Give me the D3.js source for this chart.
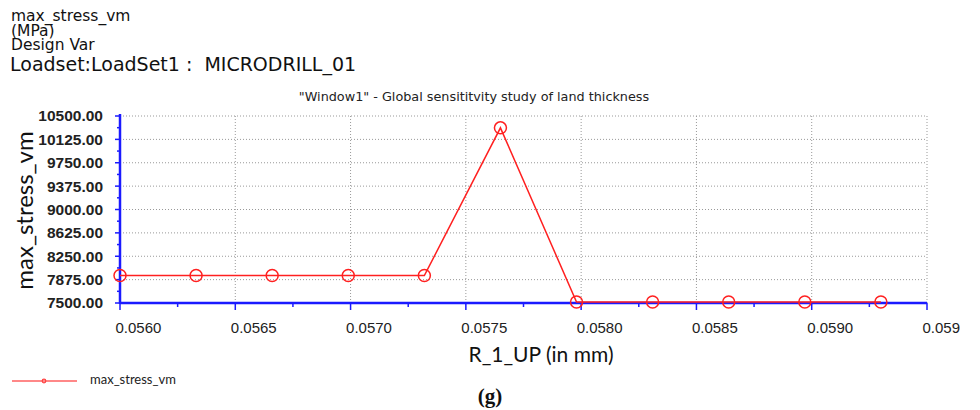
<!DOCTYPE html>
<html lang="en">
<head>
<meta charset="UTF-8">
<script src="https://d3js.org/d3.v7.min.js"></script>
<title>max_stress_vm sensitivity</title>
<style>
  body { margin: 0; background: #fff; }
  svg { display: block; font-family: Lato, 'Open Sans', sans-serif; }
  .hdr { font-family: 'DejaVu Sans', sans-serif; white-space: pre; }
</style>
</head>
<body>
<svg id="chart" width="980" height="410"></svg>
<script>
// design variable values (mm) and resulting stress (MPa)
const landThickness = [0.05600, 0.05633, 0.05666, 0.05699, 0.05732, 0.05765,
                       0.05798, 0.05831, 0.05864, 0.05897, 0.05930];
const maxStress = [7940, 7940, 7940, 7940, 7940, 10310,
                   7515, 7515, 7515, 7515, 7515];
const yTicks = [7500, 7875, 8250, 8625, 9000, 9375, 9750, 10125, 10500];
const xTicks = [0.0560, 0.0565, 0.0570, 0.0575, 0.0580, 0.0585, 0.0590, 0.0595];
const xTickLabels = ["0.0560", "0.0565", "0.0570", "0.0575", "0.0580", "0.0585", "0.0590", "0.059"];
const headerLines = ["max_stress_vm", "(MPa)", "Design Var"];

const svg = d3.select("#chart");
const plotL = 120, plotR = 927, plotT = 116, plotB = 303;

const x = d3.scaleLinear().domain([0.0560, 0.0595]).range([plotL, plotR]);
const y = d3.scaleLinear().domain([7500, 10500]).range([plotB, plotT]);

// header text (tight leading like the original export)
svg.selectAll(".hl").data(headerLines).enter().append("text")
  .attr("class", "hdr")
  .attr("x", 11).attr("y", (d, i) => 21 + i * 14.5)
  .attr("font-size", 15.5).attr("fill", "#111")
  .text(d => d);
svg.append("text").attr("class", "hdr").attr("x", 10).attr("y", 71)
  .attr("font-size", 19).attr("fill", "#111")
  .text("Loadset:LoadSet1 :  MICRODRILL_01");

svg.append("text").attr("class", "hdr").attr("x", 474).attr("y", 101)
  .attr("text-anchor", "middle").attr("font-size", 12.8).attr("fill", "#222")
  .text("\"Window1\" - Global sensititvity study of land thickness");

// grid
svg.append("g").selectAll("line").data(xTicks.slice(1)).enter().append("line")
  .attr("x1", d => x(d)).attr("x2", d => x(d))
  .attr("y1", plotT).attr("y2", plotB)
  .attr("stroke", "#999").attr("stroke-width", 1).attr("stroke-dasharray", "1,2");
svg.append("g").selectAll("line").data(yTicks.slice(1)).enter().append("line")
  .attr("x1", plotL).attr("x2", plotR)
  .attr("y1", d => y(d)).attr("y2", d => y(d))
  .attr("stroke", "#999").attr("stroke-width", 1).attr("stroke-dasharray", "1,2");

// y axis
const yAxis = svg.append("g").attr("transform", `translate(${plotL},0)`)
  .call(d3.axisLeft(y).tickValues(yTicks).tickFormat(d3.format(".2f")).tickSize(0).tickPadding(17));
yAxis.select(".domain").remove();
yAxis.selectAll("text").attr("font-size", 15.5).attr("font-weight", 600).attr("fill", "#222");
const yMinor = d3.range(7500, 10500 + 1, 187.5);
svg.append("g").selectAll("line").data(yMinor).enter().append("line")
  .attr("x1", (d, i) => i % 2 ? plotL - 3 : plotL - 5).attr("x2", plotL)
  .attr("y1", d => y(d)).attr("y2", d => y(d))
  .attr("stroke", "#1a1aff").attr("stroke-width", 1.5);

// x axis
const xAxis = svg.append("g").attr("transform", `translate(0,${plotB})`)
  .call(d3.axisBottom(x).tickValues(xTicks).tickFormat((d, i) => xTickLabels[i]).tickSize(0).tickPadding(0));
xAxis.select(".domain").remove();
xAxis.selectAll("text").attr("font-size", 15).attr("fill", "#222")
  .attr("text-anchor", "start").attr("dy", null).attr("x", -5).attr("y", 30);
const xMinor = d3.range(0, 15).map(i => 0.0560 + i * 0.00025);
svg.append("g").selectAll("line").data(xMinor).enter().append("line")
  .attr("x1", d => x(d)).attr("x2", d => x(d))
  .attr("y1", plotB).attr("y2", (d, i) => i % 2 ? plotB + 4 : plotB + 7)
  .attr("stroke", "#1a1aff").attr("stroke-width", 1.5);

svg.append("line").attr("x1", plotL).attr("x2", plotL).attr("y1", plotT - 2).attr("y2", plotB + 1)
  .attr("stroke", "#1a1aff").attr("stroke-width", 2.5);
svg.append("line").attr("x1", plotL).attr("x2", plotR).attr("y1", plotB).attr("y2", plotB)
  .attr("stroke", "#1a1aff").attr("stroke-width", 2.5);

// axis titles
svg.append("text").attr("transform", `translate(33,${(plotT + plotB) / 2 + 1}) rotate(-90)`)
  .attr("text-anchor", "middle").attr("font-size", 24).attr("fill", "#111")
  .text("max_stress_vm");
svg.append("text").attr("x", 541).attr("y", 362)
  .attr("text-anchor", "middle").attr("font-size", 21).attr("fill", "#111")
  .text("R_1_UP (in mm)");

// series
const pts = landThickness.map((d, i) => [d, maxStress[i]]);
svg.append("path").datum(pts)
  .attr("d", d3.line().x(d => x(d[0])).y(d => y(d[1])))
  .attr("fill", "none").attr("stroke", "#ff2020").attr("stroke-width", 1.5);
svg.selectAll(".pt").data(pts).enter().append("circle")
  .attr("cx", d => x(d[0])).attr("cy", d => y(d[1])).attr("r", 6)
  .attr("fill", "none").attr("stroke", "#ff2020").attr("stroke-width", 1.5);

// legend
svg.append("line").attr("x1", 12).attr("x2", 77).attr("y1", 381).attr("y2", 381)
  .attr("stroke", "#ff6060").attr("stroke-width", 1.5);
svg.append("circle").attr("cx", 44).attr("cy", 381).attr("r", 1.8)
  .attr("fill", "none").attr("stroke", "#ff4040").attr("stroke-width", 1.2);
svg.append("text").attr("x", 90).attr("y", 384)
  .attr("font-size", 13).attr("fill", "#222").text("max_stress_vm");

svg.append("text").attr("x", 490).attr("y", 403)
  .attr("text-anchor", "middle").attr("font-size", 21).attr("font-weight", "bold")
  .attr("font-family", "'Liberation Serif', serif").attr("fill", "#111")
  .text("(g)");
</script>
</body>
</html>
